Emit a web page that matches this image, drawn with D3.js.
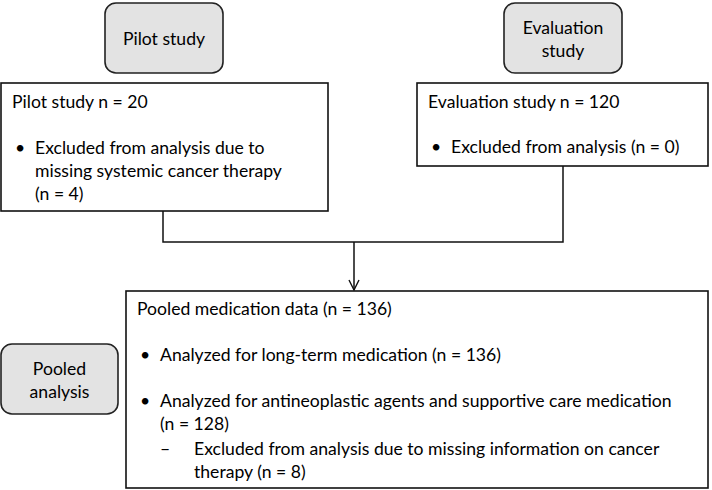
<!DOCTYPE html>
<html>
<head>
<meta charset="utf-8">
<script src="https://cdn.jsdelivr.net/npm/d3@7"></script>
<style>
  body { margin: 0; background: #fff; }
  svg text { font-family: Lato, "Open Sans", sans-serif; fill: #000; }
</style>
</head>
<body>
<div id="chart"></div>
<script>
"use strict"

// stage labels (grey rounded boxes)
const stageLabels = [["Pilot study"], ["Evaluation", "study"], ["Pooled", "analysis"]];
// box titles
const boxTitles = ["Pilot study n = 20", "Evaluation study n = 120", "Pooled medication data (n = 136)"];
// bullet items per box, each item is a list of wrapped lines, level 0 = bullet, 1 = dash
const pilotItems = [{level: 0, lines: ["Excluded from analysis due to", "missing systemic cancer therapy", "(n = 4)"]}];
const evalItems = [{level: 0, lines: ["Excluded from analysis (n = 0)"]}];
const pooledItems = [
  {level: 0, lines: ["Analyzed for long-term medication (n = 136)"]},
  {level: 0, lines: ["Analyzed for antineoplastic agents and supportive care medication", "(n = 128)"]},
  {level: 1, lines: ["Excluded from analysis due to missing information on cancer", "therapy (n = 8)"]}
];

// layout
const width = 712, height = 490;
const stageBoxes = [
  {x: 105, y: 3, w: 118, h: 70},
  {x: 504, y: 3, w: 118, h: 70},
  {x: 1, y: 344, w: 117, h: 70}
];
const mainBoxes = [
  {x: 1, y: 83, w: 327, h: 128, items: pilotItems, titleY: 108, firstItemY: 154, itemGap: 46, lineGap: 23},
  {x: 417, y: 83, w: 291, h: 83, items: evalItems, titleY: 108, firstItemY: 153, itemGap: 46, lineGap: 23},
  {x: 126, y: 291, w: 582, h: 197, items: pooledItems, titleY: 315, firstItemY: 361, itemGap: 46, lineGap: 23}
];
const fontSize = 17.6;

const svg = d3.select("#chart").append("svg")
  .attr("width", width)
  .attr("height", height);

svg.append("defs").append("marker")
  .attr("id", "arrow")
  .attr("viewBox", "0 0 12 12")
  .attr("refX", 11).attr("refY", 6)
  .attr("markerWidth", 12).attr("markerHeight", 12)
  .attr("markerUnits", "userSpaceOnUse")
  .attr("orient", "auto")
  .append("path")
    .attr("d", "M1,1 L11,6 L1,11")
    .attr("fill", "none")
    .attr("stroke", "#111")
    .attr("stroke-width", 1.4);

// stage boxes
const stages = svg.selectAll(".stage")
  .data(stageLabels)
  .enter().append("g")
    .attr("class", "stage")
    .attr("transform", (d, i) => "translate(" + stageBoxes[i].x + "," + stageBoxes[i].y + ")");

stages.append("rect")
  .attr("width", (d, i) => stageBoxes[i].w)
  .attr("height", (d, i) => stageBoxes[i].h)
  .attr("rx", 11).attr("ry", 11)
  .attr("fill", "#e3e3e3")
  .attr("stroke", "#222")
  .attr("stroke-width", 1.6);

stages.each(function(d, i) {
  const b = stageBoxes[i];
  const lh = 23;
  const y0 = b.h / 2 - (d.length - 1) * lh / 2 + 7;
  d3.select(this).selectAll("text")
    .data(d)
    .enter().append("text")
      .attr("x", b.w / 2)
      .attr("y", (t, j) => y0 + j * lh)
      .attr("text-anchor", "middle")
      .style("font-size", fontSize + "px")
      .text(t => t);
});

// connectors
const pilotX = 163, evalX = 563, joinY = 242, arrowX = 354;
const connector = d3.line();
svg.append("path")
  .attr("d", connector([[pilotX, mainBoxes[0].y + mainBoxes[0].h], [pilotX, joinY], [evalX, joinY], [evalX, mainBoxes[1].y + mainBoxes[1].h]]))
  .attr("fill", "none")
  .attr("stroke", "#111")
  .attr("stroke-width", 1.5);
svg.append("path")
  .attr("d", connector([[arrowX, joinY], [arrowX, mainBoxes[2].y - 1]]))
  .attr("fill", "none")
  .attr("stroke", "#111")
  .attr("stroke-width", 1.5)
  .attr("marker-end", "url(#arrow)");

// main boxes
const boxes = svg.selectAll(".box")
  .data(mainBoxes)
  .enter().append("g")
    .attr("class", "box");

boxes.append("rect")
  .attr("x", d => d.x)
  .attr("y", d => d.y)
  .attr("width", d => d.w)
  .attr("height", d => d.h)
  .attr("fill", "#fff")
  .attr("stroke", "#111")
  .attr("stroke-width", 1.6);

boxes.append("text")
  .attr("x", d => d.x + 11)
  .attr("y", d => d.titleY)
  .style("font-size", fontSize + "px")
  .text((d, i) => boxTitles[i]);

boxes.each(function(box) {
  const g = d3.select(this);
  let y = box.firstItemY;
  box.items.forEach(function(item, k) {
    if (k > 0) {
      // a dash sub-item follows directly under the previous item
      y += item.level === 1 ? box.lineGap + 2 : box.itemGap;
    }
    const markX = box.x + (item.level === 0 ? 14 : 34);
    const textX = box.x + (item.level === 0 ? 34 : 68);
    g.append("text")
      .attr("x", markX)
      .attr("y", y)
      .style("font-size", fontSize + "px")
      .text(item.level === 0 ? "\u2022" : "\u2013");
    item.lines.forEach(function(line, j) {
      g.append("text")
        .attr("x", textX)
        .attr("y", y + j * box.lineGap)
        .style("font-size", fontSize + "px")
        .text(line);
    });
    y += (item.lines.length - 1) * box.lineGap;
  });
});
</script>
</body>
</html>
